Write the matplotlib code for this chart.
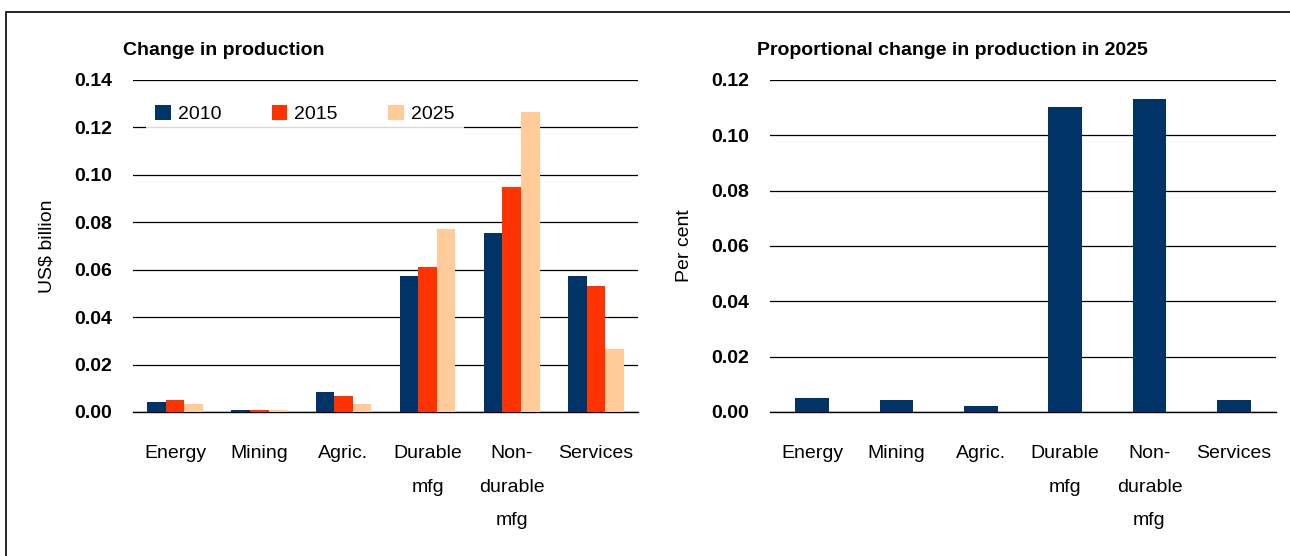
import matplotlib.pyplot as plt
import numpy as np
from matplotlib.patches import Rectangle

plt.rcParams['font.family'] = ['Liberation Sans Narrow', 'Liberation Sans', 'DejaVu Sans']

sectors = ["Energy", "Mining", "Agric.", "Durable\nmfg", "Non-\ndurable\nmfg", "Services"]
years = ["2010", "2015", "2025"]

# change in production, US$ billion
prod_2010 = [0.0043, 0.0010, 0.0083, 0.0572, 0.0753, 0.0572]
prod_2015 = [0.0051, 0.0010, 0.0067, 0.0613, 0.0949, 0.0530]
prod_2025 = [0.0035, 0.0009, 0.0035, 0.0770, 0.1266, 0.0266]

# proportional change in 2025, per cent
prop_2025 = [0.0052, 0.0044, 0.0023, 0.1101, 0.1130, 0.0044]

left_ticks = [0.00, 0.02, 0.04, 0.06, 0.08, 0.10, 0.12, 0.14]
right_ticks = [0.00, 0.02, 0.04, 0.06, 0.08, 0.10, 0.12]

navy = "#003366"
red = "#FF3300"
peach = "#FFCC99"

fig = plt.figure(figsize=(12.9, 5.56), dpi=100)
fig.patches.append(Rectangle((6 / 1290, -0.05), 1.2, 1 - 12 / 556 + 0.05,
                             transform=fig.transFigure, fill=False,
                             edgecolor="black", linewidth=1.2))

ax1 = fig.add_axes([133 / 1290, 144 / 556, 505 / 1290, 332 / 556])
ax2 = fig.add_axes([770 / 1290, 144 / 556, 506 / 1290, 332 / 556])


def style_axis(ax, ticks, ylabel):
    ax.set_axisbelow(True)
    ax.set_ylim(0, ticks[-1])
    ax.set_yticks(ticks)
    ax.set_yticklabels([f"{t:.2f}" for t in ticks], fontweight="bold", fontsize=14)
    ax.yaxis.grid(True, color="black", linewidth=0.9)
    ax.axhline(0, color="black", linewidth=1.0, zorder=0.5, clip_on=False)
    for s in ax.spines.values():
        s.set_visible(False)
    ax.tick_params(length=0)
    ax.tick_params(axis="y", pad=15)
    ax.tick_params(axis="x", pad=24)
    ax.set_xticks(np.arange(len(sectors)))
    ax.set_xticklabels(sectors, fontsize=14, linespacing=2.25, va="top")
    ax.set_xlim(-0.5, len(sectors) - 0.5)
    ax.set_ylabel(ylabel, fontsize=14)


x = np.arange(len(sectors))
w = 0.22
ax1.bar(x - w, prod_2010, w, color=navy, label=years[0])
ax1.bar(x, prod_2015, w, color=red, label=years[1])
ax1.bar(x + w, prod_2025, w, color=peach, label=years[2])
style_axis(ax1, left_ticks, "US$ billion")
ax1.yaxis.set_label_coords(-0.154, 0.5)
ax1.text(-0.02, 1.09, "Change in production", transform=ax1.transAxes,
         fontsize=14, fontweight="bold", va="center", ha="left")
ax1.legend(loc="upper left", bbox_to_anchor=(0.025, 0.955), ncol=3,
           fontsize=14, handlelength=0.8, handleheight=0.8,
           handletextpad=0.35, columnspacing=2.6, borderaxespad=0,
           borderpad=0.5, fancybox=False, framealpha=0.85,
           edgecolor="none", facecolor="white")

ax2.bar(x, prop_2025, 0.4, color=navy)
style_axis(ax2, right_ticks, "Per cent")
ax2.yaxis.set_label_coords(-0.152, 0.5)
ax2.text(-0.026, 1.09, "Proportional change in production in 2025",
         transform=ax2.transAxes, fontsize=14, fontweight="bold",
         va="center", ha="left")

fig.savefig("out.png", dpi=100)
